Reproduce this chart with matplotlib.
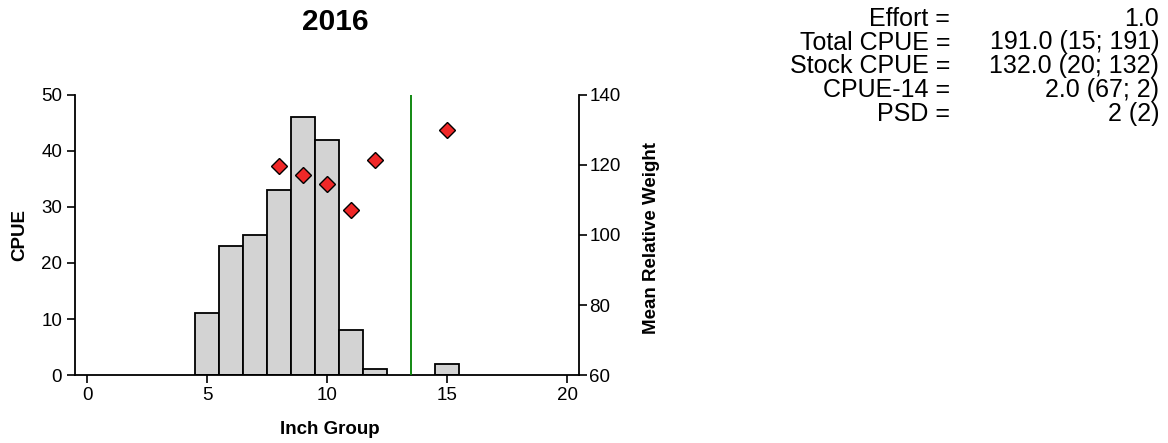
import matplotlib
matplotlib.use("Agg")
import matplotlib.pyplot as plt

plt.rcParams['font.family'] = ['Liberation Sans', 'DejaVu Sans']

# length frequency (CPUE by inch group)
inch_groups = [5, 6, 7, 8, 9, 10, 11, 12, 15]
cpue = [11, 23, 25, 33, 46, 42, 8, 1, 2]

# mean relative weight by inch group
wr_groups = [8, 9, 10, 11, 12, 15]
wr_values = [119.8, 117.1, 114.5, 107.0, 121.3, 129.9]

stat_labels = ["Effort =", "Total CPUE =", "Stock CPUE =", "CPUE-14 =", "PSD ="]
stat_values = ["1.0", "191.0 (15; 191)", "132.0 (20; 132)", "2.0 (67; 2)", "2 (2)"]

year = "2016"
length_limit = 13.5

W, H = 1168, 443
fig = plt.figure(figsize=(W / 100, H / 100), dpi=100)
ax = fig.add_axes([75 / W, 1 - 375 / H, 504 / W, 280 / H])

ax.bar(inch_groups, cpue, width=1.0, color='#d3d3d3', edgecolor='black', linewidth=1.3, zorder=2)
ax.axvline(length_limit, color='#008000', linewidth=1.3, zorder=3)

ax.set_xlim(-0.5, 20.5)
ax.set_ylim(0, 50)
ax.set_xticks([0, 5, 10, 15, 20])
ax.set_yticks([0, 10, 20, 30, 40, 50])
ax.spines['top'].set_visible(False)
ax.spines['right'].set_visible(False)
for s in ['left', 'bottom']:
    ax.spines[s].set_linewidth(1.3)
ax.tick_params(axis='x', direction='out', length=5.5, width=1.2, labelsize=13.5, pad=3.2)
ax.tick_params(axis='y', direction='out', length=5.5, width=1.2, labelsize=13.5, pad=3.8)

ax2 = ax.twinx()
ax2.plot(wr_groups, wr_values, linestyle='none', marker='D', markersize=8.2,
         markerfacecolor='#f02828', markeredgecolor='black', markeredgewidth=1.0, zorder=4)
ax2.set_ylim(60, 140)
ax2.set_yticks([60, 80, 100, 120, 140])
ax2.spines['top'].set_visible(False)
ax2.spines['left'].set_visible(False)
ax2.spines['bottom'].set_visible(False)
ax2.spines['right'].set_linewidth(1.3)
ax2.tick_params(axis='y', direction='out', length=5.5, width=1.2, labelsize=13.5, pad=2)

# axis labels and title placed by pixel centre
fig.text(330 / W, 1 - 429 / H, "Inch Group", ha='center', va='center', fontsize=13.5, fontweight='bold')
fig.text(20 / W, 1 - 235 / H, "CPUE", ha='center', va='center', rotation=90, fontsize=13.5, fontweight='bold')
fig.text(652 / W, 1 - 238 / H, "Mean Relative Weight", ha='center', va='center', rotation=90,
         fontsize=13.5, fontweight='bold')
fig.text(335 / W, 1 - 30 / H, year, ha='center', va='baseline', fontsize=21.5, fontweight='bold')

# summary stats text block
baselines = [25.7, 49.5, 73.3, 97.1, 120.9]
for i in range(len(stat_labels)):
    y = 1 - baselines[i] / H
    fig.text(950 / W, y, stat_labels[i], ha='right', va='baseline', fontsize=18)
    fig.text(1159 / W, y, stat_values[i], ha='right', va='baseline', fontsize=18)

fig.savefig("out.png", dpi=100)
